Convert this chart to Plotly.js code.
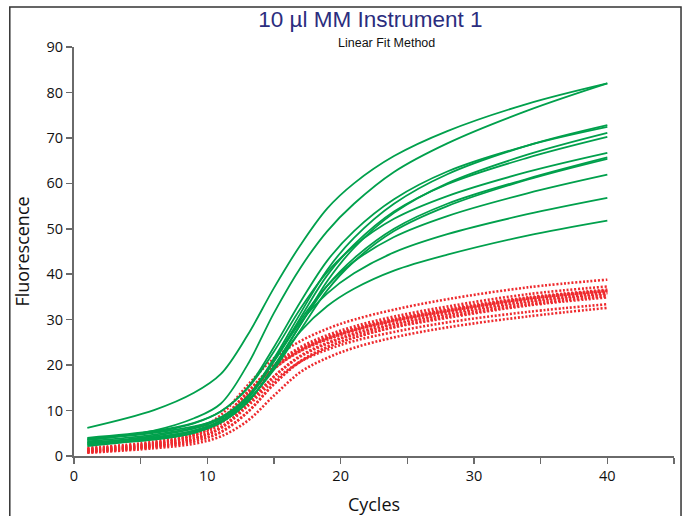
<!DOCTYPE html>
<html>
<head>
<meta charset="utf-8">
<script src="https://cdn.plot.ly/plotly-3.0.1.min.js"></script>
<style>
  html, body { margin: 0; padding: 0; background: #ffffff; }
  #chart { width: 686px; height: 516px; }
</style>
</head>
<body>
<div id="chart"></div>
<script>
// Cycle numbers at which the curves are sampled
const cycles = [1, 6, 9, 11, 13, 15, 17, 19, 21, 24, 28, 34, 40];

// Green (solid) fluorescence curves
const green01 = [6.2, 10.1, 13.9, 18.0, 26.5, 37.0, 46.5, 54.5, 60.0, 66.0, 71.5, 77.5, 82.0];
const green02 = [3.5, 5.6, 8.3, 11.5, 20.0, 31.5, 41.5, 49.5, 55.5, 62.5, 68.8, 76.0, 82.0];
const green03 = [2.8, 4.4, 6.0, 8.2, 13.0, 21.5, 31.5, 41.0, 48.0, 55.5, 62.0, 68.3, 72.8];
const green04 = [3.8, 5.3, 7.2, 9.8, 15.0, 24.0, 34.0, 43.0, 49.5, 56.5, 62.6, 68.3, 72.4];
const green05 = [2.5, 4.1, 5.6, 7.6, 11.8, 19.5, 29.0, 38.5, 45.8, 53.5, 60.0, 66.3, 71.1];
const green06 = [3.2, 4.7, 6.3, 8.5, 13.0, 21.0, 30.5, 39.8, 46.5, 53.8, 59.8, 65.6, 70.2];
const green07 = [4.0, 5.5, 7.3, 9.8, 14.8, 23.0, 32.5, 40.5, 46.2, 52.2, 57.2, 62.5, 66.7];
const green08 = [2.2, 3.8, 5.4, 7.4, 11.8, 19.8, 29.0, 37.5, 43.5, 50.0, 55.5, 61.0, 65.7];
const green09 = [3.6, 5.1, 6.5, 8.3, 12.2, 19.0, 27.8, 36.5, 42.8, 49.5, 55.0, 60.8, 65.4];
const green10 = [3.0, 4.1, 5.6, 7.8, 12.6, 21.0, 30.0, 37.5, 42.8, 48.2, 52.8, 57.8, 61.9];
const green11 = [2.6, 3.6, 5.1, 7.5, 12.5, 20.8, 29.5, 35.8, 40.2, 44.8, 48.8, 53.2, 56.8];
const green12 = [3.0, 3.75, 5.1, 7.3, 11.8, 19.5, 27.5, 33.0, 36.8, 40.8, 44.3, 48.5, 51.8];

// Red (dotted) fluorescence curves
const red01 = [1.8, 3.2, 5.4, 9.0, 15.5, 21.5, 25.3, 28.0, 30.0, 32.2, 34.5, 37.1, 38.8];
const red02 = [1.5, 2.8, 4.8, 8.0, 14.0, 20.0, 24.0, 26.6, 28.5, 30.7, 32.9, 35.6, 37.3];
const red03 = [1.2, 2.6, 4.6, 8.0, 14.0, 19.9, 23.7, 26.2, 28.1, 30.2, 32.4, 34.9, 36.6];
const red04 = [1.0, 2.3, 4.1, 7.1, 13.0, 19.2, 23.2, 25.8, 27.7, 29.8, 31.9, 34.6, 36.3];
const red05 = [1.4, 2.7, 4.5, 7.4, 13.2, 19.2, 23.1, 25.6, 27.5, 29.6, 31.7, 34.3, 36.0];
const red06 = [0.9, 2.1, 3.7, 6.2, 11.3, 17.5, 22.1, 24.9, 26.9, 29.1, 31.3, 34.0, 35.8];
const red07 = [1.1, 2.3, 3.8, 6.3, 11.4, 17.5, 21.9, 24.7, 26.7, 28.9, 31.0, 33.7, 35.5];
const red08 = [0.8, 1.9, 3.2, 5.2, 9.6, 15.8, 20.9, 24.0, 26.1, 28.4, 30.6, 33.3, 35.2];
const red09 = [1.3, 2.4, 3.8, 6.1, 10.9, 16.6, 20.8, 23.4, 25.3, 27.3, 29.4, 31.7, 33.4];
const red10 = [0.7, 1.7, 2.7, 4.3, 7.7, 13.3, 18.5, 21.6, 23.8, 26.1, 28.3, 30.7, 32.6];
const red11 = [1.6, 2.9, 4.7, 7.7, 13.5, 19.5, 23.4, 26.0, 27.9, 30.0, 32.1, 34.7, 36.4];
const red12 = [1.0, 2.1, 3.3, 5.3, 9.6, 15.9, 20.8, 23.9, 26.0, 28.3, 30.4, 33.1, 34.9];

// Axis ticks
const xTickVals = [0, 5, 10, 15, 20, 25, 30, 35, 40, 45];
const xTickText = ['0', '', '10', '', '20', '', '30', '', '40', ''];
const yTickVals = [0, 10, 20, 30, 40, 50, 60, 70, 80, 90];

const greenSeries = [green01, green02, green03, green04, green05, green06,
                     green07, green08, green09, green10, green11, green12];
const redSeries = [red01, red02, red03, red04, red05, red06,
                   red07, red08, red09, red10, red11, red12];

const traces = [];
redSeries.forEach(function (ys) {
  traces.push({
    x: cycles, y: ys, type: 'scatter', mode: 'lines',
    line: { color: '#ee2a2e', width: 2.6, dash: '2px,1.8px', shape: 'spline', smoothing: 1 },
    hoverinfo: 'skip', showlegend: false
  });
});
greenSeries.forEach(function (ys) {
  traces.push({
    x: cycles, y: ys, type: 'scatter', mode: 'lines',
    line: { color: '#00a04c', width: 1.8, shape: 'spline', smoothing: 1 },
    hoverinfo: 'skip', showlegend: false
  });
});

const axisFont = { family: 'Open Sans, Noto Sans, sans-serif', size: 14.5, color: '#111111' };
const axisTitleFont = { family: 'Open Sans, Noto Sans, sans-serif', size: 18, color: '#111111' };

const layout = {
  width: 686, height: 516,
  paper_bgcolor: '#ffffff', plot_bgcolor: '#ffffff',
  margin: { l: 74, r: 12, t: 47, b: 60 },
  showlegend: false,
  title: {
    text: '10 µl MM Instrument 1',
    font: { family: 'Liberation Sans, Arial, sans-serif', size: 22.5, color: '#2b2d7e' },
    x: 0.54, xref: 'container', xanchor: 'center',
    y: 0.962, yref: 'container', yanchor: 'middle'
  },
  annotations: [{
    text: 'Linear Fit Method', xref: 'paper', yref: 'paper',
    x: 0.52, y: 1.01, xanchor: 'center', yanchor: 'middle', showarrow: false,
    font: { family: 'Liberation Sans, Arial, sans-serif', size: 12.5, color: '#111111' }
  }],
  xaxis: {
    range: [0, 45], tickmode: 'array', tickvals: xTickVals, ticktext: xTickText,
    showgrid: false, zeroline: false, showline: true, linecolor: '#6a6a6a', linewidth: 2,
    ticks: 'outside', ticklen: 6, tickwidth: 1.5, tickcolor: '#6a6a6a',
    tickfont: axisFont,
    title: { text: 'Cycles', font: axisTitleFont, standoff: 15 },
    fixedrange: true
  },
  yaxis: {
    range: [0, 90], tickmode: 'array', tickvals: yTickVals,
    showgrid: false, zeroline: false, showline: true, linecolor: '#6a6a6a', linewidth: 2,
    ticks: 'outside', ticklen: 6, tickwidth: 1.5, tickcolor: '#6a6a6a',
    tickfont: axisFont,
    title: { text: 'Fluorescence', font: axisTitleFont, standoff: 12 },
    fixedrange: true
  },
  shapes: [{
    type: 'rect', xref: 'paper', yref: 'paper',
    x0: -0.107, x1: 1.0117, y0: -0.2, y1: 1.098,
    line: { color: '#333333', width: 1.5 }, fillcolor: 'rgba(0,0,0,0)', layer: 'below'
  }]
};

Plotly.newPlot('chart', traces, layout, { staticPlot: true, displayModeBar: false });
</script>
</body>
</html>
